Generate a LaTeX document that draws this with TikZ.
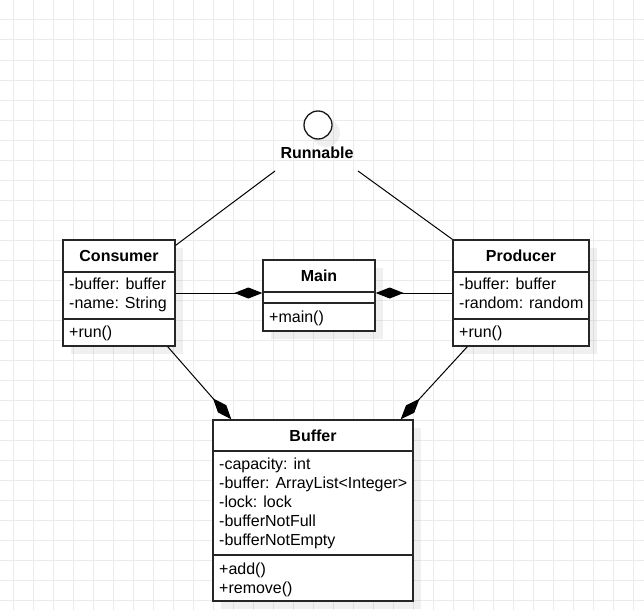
\documentclass[tikz,border=0pt]{standalone}
\usepackage{fontspec}
\setmainfont{Liberation Sans}
\usetikzlibrary{arrows.meta,shadows}

\tikzset{
  gridline/.style={draw=black!8, line width=1pt},
  classshadow/.style={drop shadow={shadow xshift=8pt, shadow yshift=-8pt, fill=black, opacity=0.06}},
  classbox/.style={rectangle, draw=black!85, line width=1.3pt, fill=white, inner sep=0pt, classshadow},
  classline/.style={draw=black!85, line width=1.3pt},
  classtitle/.style={anchor=base, inner sep=0pt, font=\fontsize{16}{19}\selectfont\bfseries},
  member/.style={anchor=base west, inner sep=0pt},
  link/.style={black, line width=1pt},
  compose/.style={link, -{Diamond[length=28pt, width=11pt]}},
}

\begin{document}
\begin{tikzpicture}[x=1pt, y=-1pt, font=\fontsize{16}{19}\selectfont]
    \useasboundingbox (0,0) rectangle (644,610);

    % background grid
    \foreach \gx in {13,33,...,633}
        \draw[gridline] (\gx,0) -- (\gx,610);
    \foreach \gy in {20,40,...,600}
        \draw[gridline] (0,\gy) -- (644,\gy);

    % interface
    \node[circle, draw=black!90, line width=1.3pt, fill=white, minimum size=28pt, inner sep=0pt, classshadow] (runnable) at (318,125) {};
    \node[classtitle] (runnable-label) at (317,158) {Runnable};
    \coordinate (runnable-l) at (275,171);
    \coordinate (runnable-r) at (358,171);

    % classes
    \node[classbox, minimum width=112pt, minimum height=106pt] (consumer) at (119,293) {};
    \draw[classline] (63,272) -- (175,272);
    \draw[classline] (63,319) -- (175,319);
    \node[classtitle] (consumer-title) at (119,261) {Consumer};
    \node[member] (consumer-a1) at (69,289) {-buffer: buffer};
    \node[member] (consumer-a2) at (69,308) {-name: String};
    \node[member] (consumer-m1) at (69,337) {+run()};

    \node[classbox, minimum width=112pt, minimum height=71pt] (main) at (319,295.5) {};
    \draw[classline] (263,292) -- (375,292);
    \draw[classline] (263,303) -- (375,303);
    \node[classtitle] (main-title) at (319,281) {Main};
    \node[member] (main-m1) at (269,322) {+main()};

    \node[classbox, minimum width=136pt, minimum height=106pt] (producer) at (521,293) {};
    \draw[classline] (453,272) -- (589,272);
    \draw[classline] (453,319) -- (589,319);
    \node[classtitle] (producer-title) at (521,261) {Producer};
    \node[member] (producer-a1) at (459,289) {-buffer: buffer};
    \node[member] (producer-a2) at (459,308) {-random: random};
    \node[member] (producer-m1) at (459,337) {+run()};

    \node[classbox, minimum width=200pt, minimum height=181pt] (buffer) at (313,510.5) {};
    \draw[classline] (213,451) -- (413,451);
    \draw[classline] (213,555) -- (413,555);
    \node[classtitle] (buffer-title) at (313,441) {Buffer};
    \node[member] (buffer-a1) at (219,469) {-capacity: int};
    \node[member] (buffer-a2) at (219,488) {-buffer: ArrayList<Integer>};
    \node[member] (buffer-a3) at (219,507) {-lock: lock};
    \node[member] (buffer-a4) at (219,526) {-bufferNotFull};
    \node[member] (buffer-a5) at (219,545) {-bufferNotEmpty};
    \node[member] (buffer-m1) at (219,574) {+add()};
    \node[member] (buffer-m2) at (219,593) {+remove()};

    % relations
    \draw[link] (runnable-l) -- ([yshift=-6pt]consumer.north east);
    \draw[link] (runnable-r) -- (producer.north west);
    \draw[compose] (consumer.east) -- (main.west |- consumer.east);
    \draw[compose] (producer.west) -- (main.east |- producer.west);
    \draw[compose] ([xshift=-8pt]consumer.south east) -- ([xshift=19pt]buffer.north west);
    \draw[compose] ([xshift=15pt]producer.south west) -- ([xshift=-13pt]buffer.north east);
\end{tikzpicture}
\end{document}
